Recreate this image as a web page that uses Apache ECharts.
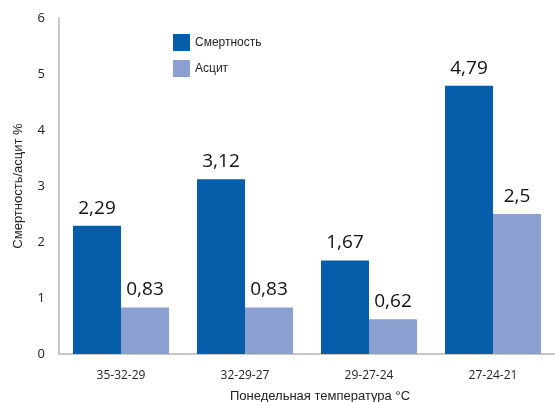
<!DOCTYPE html>
<html>
<head>
<meta charset="utf-8">
<script src="https://cdn.jsdelivr.net/npm/echarts@6/dist/echarts.min.js"></script>
<style>
  html, body { margin: 0; padding: 0; background: #fff; }
  #chart { width: 555px; height: 402px; }
</style>
</head>
<body>
<div id="chart"></div>
<script>
// данные графика
const categories = ['35-32-29', '32-29-27', '29-27-24', '27-24-21'];
const mortality = [2.29, 3.12, 1.67, 4.79];
const ascites = [0.83, 0.83, 0.62, 2.5];
const yTicks = [0, 1, 2, 3, 4, 5, 6];

const myChart = echarts.init(document.getElementById('chart'));

// подпись значения с запятой
const commaLabel = {
  show: true,
  position: 'top',
  distance: 8,
  fontSize: 19,
  color: '#111',
  fontFamily: 'Open Sans',
  formatter: (p) => String(p.value).replace('.', ',')
};

const option = {
  animation: false,
  grid: {
    left: 59,
    right: 0,
    top: 18,
    bottom: 48,
    outerBoundsMode: 'none',
    containLabel: false
  },
  legend: {
    left: 168,
    top: 29,
    orient: 'vertical',
    itemWidth: 17,
    itemHeight: 17,
    itemGap: 9,
    icon: 'rect',
    textStyle: { fontSize: 12, color: '#222', fontFamily: 'Liberation Sans' },
    data: ['Смертность', 'Асцит']
  },
  xAxis: {
    type: 'category',
    data: categories,
    name: 'Понедельная температура °C',
    nameLocation: 'middle',
    nameGap: 36,
    nameTextStyle: { fontSize: 13, color: '#222', fontFamily: 'Liberation Sans', padding: [0, 0, 0, 26] },
    axisLine: { lineStyle: { color: '#c8c8c8', width: 2 } },
    axisTick: { show: false },
    axisLabel: { margin: 16, fontSize: 12, color: '#222', fontFamily: 'Open Sans' }
  },
  yAxis: {
    type: 'value',
    min: yTicks[0],
    max: yTicks[yTicks.length - 1],
    interval: 1,
    name: 'Смертность/асцит %',
    nameLocation: 'middle',
    nameGap: 34,
    nameTextStyle: { fontSize: 13, color: '#222', fontFamily: 'Liberation Sans' },
    axisLine: { show: true, lineStyle: { color: '#c8c8c8', width: 2 } },
    axisTick: { show: false },
    splitLine: { show: false },
    axisLabel: { margin: 14, fontSize: 13, color: '#222', fontFamily: 'Open Sans' }
  },
  series: [
    {
      name: 'Смертность',
      type: 'bar',
      data: mortality,
      barWidth: 48,
      barGap: '0%',
      itemStyle: { color: '#065daa' },
      label: commaLabel
    },
    {
      name: 'Асцит',
      type: 'bar',
      data: ascites,
      barWidth: 48,
      barGap: '0%',
      itemStyle: { color: '#8b9fd0' },
      label: commaLabel
    }
  ]
};
myChart.setOption(option);
</script>
</body>
</html>
